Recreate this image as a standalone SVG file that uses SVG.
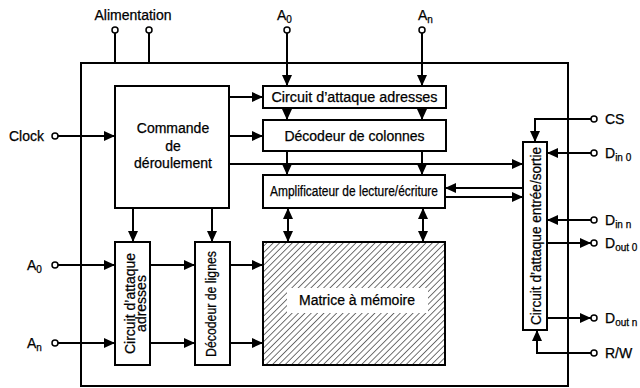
<svg xmlns="http://www.w3.org/2000/svg" width="640" height="388" viewBox="0 0 640 388">
<defs>
<marker id="arr" viewBox="0 0 11 10" refX="11" refY="5" markerWidth="11" markerHeight="10" markerUnits="userSpaceOnUse" orient="auto-start-reverse"><path d="M0,0 L11,5 L0,10 z" fill="#000"/></marker>
<pattern id="hatch" width="4.5" height="4.5" patternUnits="userSpaceOnUse" patternTransform="rotate(45)"><line x1="0" y1="0" x2="0" y2="4.5" stroke="#000" stroke-width="1.1"/></pattern>
</defs>
<style>
.box{fill:#fff;stroke:#000;stroke-width:2}
.ln{fill:none;stroke:#000;stroke-width:2}
.a{marker-end:url(#arr)}
.aa{marker-end:url(#arr);marker-start:url(#arr)}
.pin{fill:#fff;stroke:#000;stroke-width:1.5}
text{font-family:"Liberation Sans",Arial,sans-serif;font-size:14px;fill:#000;stroke:#000;stroke-width:0.25}
.c{text-anchor:middle}
.sub{font-size:10px}
</style>
<rect width="640" height="388" fill="#fff"/>
<rect id="outer" x="81" y="63" width="487" height="323" fill="none" stroke="#000" stroke-width="2"/>

<g id="connectors">
<line class="ln" x1="115" y1="33" x2="115" y2="63"/>
<line class="ln" x1="149" y1="33" x2="149" y2="63"/>
<line class="ln a" x1="287" y1="33" x2="287" y2="86"/>
<line class="ln a" x1="422" y1="33" x2="422" y2="86"/>
<line class="ln a" x1="287" y1="108" x2="287" y2="120"/>
<line class="ln a" x1="422" y1="108" x2="422" y2="120"/>
<line class="ln a" x1="287" y1="151" x2="287" y2="175"/>
<line class="ln a" x1="422" y1="151" x2="422" y2="175"/>
<line class="ln a" x1="229" y1="97" x2="263" y2="97"/>
<line class="ln a" x1="229" y1="136" x2="263" y2="136"/>
<line class="ln a" x1="229" y1="164" x2="523" y2="164"/>
<line class="ln a" x1="58" y1="136" x2="115" y2="136"/>
<line class="ln a" x1="523" y1="188" x2="445" y2="188"/>
<line class="ln a" x1="445" y1="197" x2="523" y2="197"/>
<line class="ln aa" x1="288" y1="208" x2="288" y2="242"/>
<line class="ln aa" x1="423" y1="208" x2="423" y2="242"/>
<line class="ln a" x1="133" y1="208" x2="133" y2="242"/>
<line class="ln a" x1="212" y1="208" x2="212" y2="242"/>
<line class="ln a" x1="58" y1="265" x2="115" y2="265"/>
<line class="ln a" x1="58" y1="343" x2="115" y2="343"/>
<line class="ln a" x1="150" y1="265" x2="195" y2="265"/>
<line class="ln a" x1="150" y1="343" x2="195" y2="343"/>
<line class="ln a" x1="230" y1="265" x2="263" y2="265"/>
<line class="ln a" x1="230" y1="343" x2="263" y2="343"/>
<path class="ln a" d="M591,119 H535 V142"/>
<line class="ln a" x1="591" y1="153" x2="547" y2="153"/>
<line class="ln a" x1="591" y1="220" x2="547" y2="220"/>
<line class="ln a" x1="547" y1="243" x2="591" y2="243"/>
<line class="ln a" x1="547" y1="318" x2="591" y2="318"/>
<path class="ln a" d="M591,353 H537 V330"/>
<circle class="pin" cx="115" cy="30" r="3"/>
<circle class="pin" cx="149" cy="30" r="3"/>
<circle class="pin" cx="287" cy="30" r="3"/>
<circle class="pin" cx="422" cy="30" r="3"/>
<circle class="pin" cx="55" cy="136" r="3"/>
<circle class="pin" cx="55" cy="265" r="3"/>
<circle class="pin" cx="55" cy="343" r="3"/>
<circle class="pin" cx="594" cy="119" r="3"/>
<circle class="pin" cx="594" cy="153" r="3"/>
<circle class="pin" cx="594" cy="220" r="3"/>
<circle class="pin" cx="594" cy="243" r="3"/>
<circle class="pin" cx="594" cy="318" r="3"/>
<circle class="pin" cx="594" cy="353" r="3"/>
</g>

<g id="labels">
<text class="c" x="133" y="20">Alimentation</text>
<text x="277" y="20">A<tspan class="sub" dy="3">0</tspan></text>
<text x="418" y="20">A<tspan class="sub" dy="3">n</tspan></text>
<text x="9" y="141">Clock</text>
<text x="27" y="270">A<tspan class="sub" dy="3">0</tspan></text>
<text x="27" y="348">A<tspan class="sub" dy="3">n</tspan></text>
<text x="605" y="124">CS</text>
<text x="605" y="158">D<tspan class="sub" dy="3">in 0</tspan></text>
<text x="605" y="225">D<tspan class="sub" dy="3">in n</tspan></text>
<text x="605" y="248">D<tspan class="sub" dy="3">out 0</tspan></text>
<text x="605" y="323">D<tspan class="sub" dy="3">out n</tspan></text>
<text x="605" y="358">R/W</text>
</g>

<g id="commande">
<rect class="box" x="115" y="86" width="114" height="122"/>
<text class="c" x="173" y="133">Commande</text>
<text class="c" x="173" y="151">de</text>
<text class="c" x="173" y="168">déroulement</text>
</g>

<g id="circuit-adresses-col">
<rect class="box" x="263" y="86" width="183" height="22"/>
<text class="c" x="354.5" y="102" font-size="13" textLength="166" lengthAdjust="spacingAndGlyphs">Circuit d’attaque adresses</text>
</g>

<g id="decodeur-colonnes">
<rect class="box" x="263" y="120" width="183" height="31"/>
<text class="c" x="354.5" y="141">Décodeur de colonnes</text>
</g>

<g id="amplificateur">
<rect class="box" x="263" y="175" width="182" height="33"/>
<text class="c" x="354" y="196" font-size="13" textLength="168" lengthAdjust="spacingAndGlyphs">Amplificateur de lecture/écriture</text>
</g>

<g id="matrice">
<rect x="263" y="242" width="182" height="123" fill="url(#hatch)" stroke="#000" stroke-width="2"/>
<rect x="287" y="288" width="141" height="25" fill="#fff"/>
<text class="c" x="357" y="305">Matrice à mémoire</text>
</g>

<g id="circuit-adresses-lig">
<rect class="box" x="115" y="242" width="35" height="123"/>
<text class="c" transform="translate(135,303.5) rotate(-90)">Circuit d’attaque</text>
<text class="c" transform="translate(146,303.5) rotate(-90)">adresses</text>
</g>

<g id="decodeur-lignes">
<rect class="box" x="195" y="242" width="35" height="123"/>
<text class="c" transform="translate(216,304) rotate(-90)" textLength="106" lengthAdjust="spacingAndGlyphs">Décodeur de lignes</text>
</g>

<g id="circuit-es">
<rect class="box" x="523" y="142" width="24" height="188"/>
<text class="c" transform="translate(540.5,236) rotate(-90)" textLength="178" lengthAdjust="spacingAndGlyphs">Circuit d’attaque entrée/sortie</text>
</g>
</svg>
